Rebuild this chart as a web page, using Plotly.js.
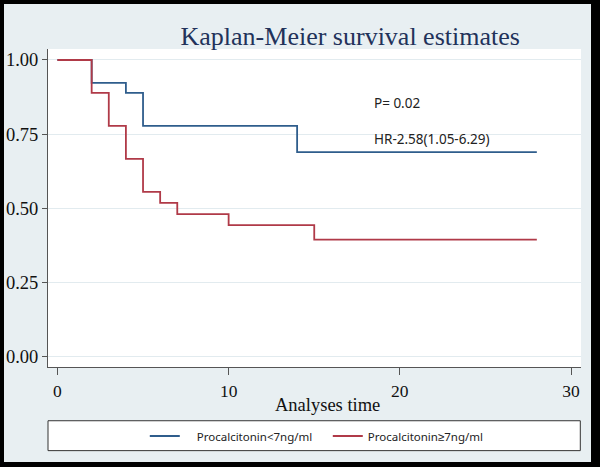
<!DOCTYPE html>
<html>
<head>
<meta charset="utf-8">
<script src="https://cdn.plot.ly/plotly-3.0.1.min.js"></script>
<style>
  html, body { margin: 0; padding: 0; background: #000; width: 600px; height: 467px; overflow: hidden; }
  #chart { position: absolute; left: 4px; top: 4px; width: 587px; height: 458px; }
</style>
</head>
<body>
<div id="chart"></div>
<script>
// Kaplan-Meier step data
const seriesNames = ["Procalcitonin<7ng/ml", "Procalcitonin\u22657ng/ml"];
const lowTime = [0, 2, 4, 5, 14, 28];
const lowSurv = [1.0, 0.923, 0.889, 0.778, 0.690, 0.690];
const highTime = [0, 2, 3, 4, 5, 6, 7, 10, 15, 28];
const highSurv = [1.0, 0.889, 0.778, 0.667, 0.556, 0.519, 0.481, 0.444, 0.395, 0.395];
const xTicks = [0, 10, 20, 30];
const yTicks = [0, 0.25, 0.5, 0.75, 1.0];
const yTickText = ["0.00", "0.25", "0.50", "0.75", "1.00"];
const titleText = "Kaplan-Meier survival estimates";
const xTitleText = "Analyses time";
const pText = "P= 0.02";
const hrText = "HR-2.58(1.05-6.29)";

const nb = "\u00a0";
const traces = [
  {
    x: lowTime, y: lowSurv, type: "scatter", mode: "lines",
    line: { shape: "hv", color: "#2f5d8c", width: 1.8 },
    name: nb + nb + nb + nb + seriesNames[0]
  },
  {
    x: highTime, y: highSurv, type: "scatter", mode: "lines",
    line: { shape: "hv", color: "#b03a48", width: 1.8 },
    name: seriesNames[1]
  }
];

const layout = {
  width: 587, height: 458,
  margin: { l: 44, r: 10, t: 45, b: 95 },
  paper_bgcolor: "#e8eff2",
  plot_bgcolor: "#ffffff",
  showlegend: true,
  title: {
    text: titleText,
    font: { family: "Liberation Serif, Times New Roman, serif", size: 26, color: "#22325a" },
    xref: "paper", x: 0.567, xanchor: "center",
    yref: "container", y: 0.93, yanchor: "middle"
  },
  xaxis: {
    range: [-0.55, 30.58],
    tickvals: xTicks,
    ticks: "outside", ticklen: 7, tickcolor: "#555", tickwidth: 1,
    showline: true, linecolor: "#555", linewidth: 1,
    showgrid: false, zeroline: false,
    tickfont: { family: "Liberation Serif, Times New Roman, serif", size: 17.5, color: "#111" },
    ticklabelstandoff: 1,
    fixedrange: true
  },
  yaxis: {
    range: [-0.0337, 1.037],
    tickvals: yTicks, ticktext: yTickText,
    ticks: "outside", ticklen: 5, tickcolor: "#555", tickwidth: 1,
    showline: true, linecolor: "#555", linewidth: 1,
    showgrid: true, gridcolor: "#e2ebef", gridwidth: 1,
    zeroline: false,
    tickfont: { family: "Liberation Serif, Times New Roman, serif", size: 18.5, color: "#111" },
    ticklabelstandoff: 0,
    fixedrange: true
  },
  legend: {
    orientation: "h",
    xref: "paper", yref: "paper",
    x: 0.1816, xanchor: "left",
    y: -0.217, yanchor: "middle",
    bgcolor: "rgba(0,0,0,0)", borderwidth: 0,
    font: { family: "Noto Sans, sans-serif", size: 11.5, color: "#222" },
    entrywidth: 138, entrywidthmode: "pixels",
    traceorder: "normal"
  },
  shapes: [
    {
      type: "rect", xref: "paper", yref: "paper",
      x0: 0, x1: 0.9987, y0: -0.263, y1: -0.169,
      line: { color: "#333", width: 1 },
      fillcolor: "#ffffff", layer: "above"
    }
  ],
  annotations: [
    {
      text: xTitleText, xref: "paper", yref: "paper",
      x: 0.525, y: -0.1195, xanchor: "center", yanchor: "middle",
      showarrow: false,
      font: { family: "Liberation Serif, Times New Roman, serif", size: 18.5, color: "#111" }
    },
    {
      text: pText, xref: "x", yref: "y",
      x: 18.36, y: 0.856, xanchor: "left", yanchor: "middle",
      showarrow: false,
      font: { family: "Noto Sans, sans-serif", size: 13.5, color: "#222" }
    },
    {
      text: hrText, xref: "x", yref: "y",
      x: 18.38, y: 0.733, xanchor: "left", yanchor: "middle",
      showarrow: false,
      font: { family: "Noto Sans, sans-serif", size: 13.5, color: "#222" }
    }
  ]
};

Plotly.newPlot("chart", traces, layout, { displayModeBar: false, staticPlot: true });
</script>
</body>
</html>
